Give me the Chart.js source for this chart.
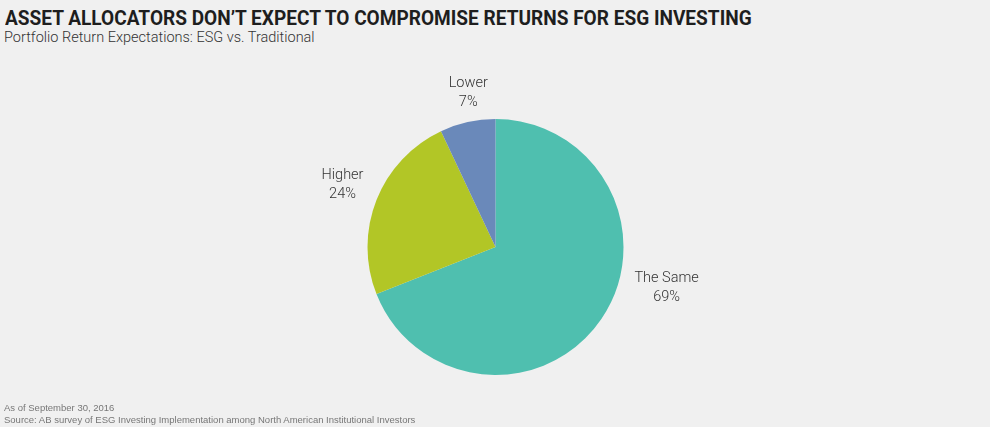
<!DOCTYPE html>
<html>
<head>
<meta charset="utf-8">
<script src="https://cdn.jsdelivr.net/npm/chart.js@4.4.0/dist/chart.umd.min.js"></script>
<style>
  html, body { margin: 0; padding: 0; background: #f0f0f0; }
  body { width: 990px; height: 427px; position: relative; overflow: hidden; font-family: Roboto, "Liberation Sans", sans-serif; }
  #title { position: absolute; left: 5px; top: 6px; font-size: 21px; font-weight: 700; color: #1e1e1e; white-space: nowrap; transform-origin: left top; }
  #subtitle { position: absolute; left: 4px; top: 29px; font-size: 14.5px; font-weight: 300; color: #333; white-space: nowrap; }
  #notes { position: absolute; left: 4px; top: 402px; font-family: "Liberation Sans", Arial, sans-serif; font-size: 9.5px; line-height: 12px; color: #777; white-space: nowrap; }
  #wrap { position: absolute; left: 0; top: 60px; width: 990px; height: 374px; }
</style>
</head>
<body>
<div id="title">ASSET ALLOCATORS DON’T EXPECT TO COMPROMISE RETURNS FOR ESG INVESTING</div>
<div id="subtitle">Portfolio Return Expectations: ESG vs. Traditional</div>
<div id="wrap"><canvas id="chart"></canvas></div>
<div id="notes">As of September 30, 2016<br>Source: AB survey of ESG Investing Implementation among North American Institutional Investors</div>
<script>
// ----------------- DATA -----------------
const categories = ["The Same", "Higher", "Lower"];
const shares = [69, 24, 7];
const sliceColors = ["#4fbfaf", "#b2c626", "#6a89ba"];

// squeeze the title to the reference width
const titleEl = document.getElementById("title");
titleEl.style.transform = "scaleX(" + (747 / titleEl.scrollWidth) + ")";

// ----------------- LABELS -----------------
// label angle (deg, 0 = right, clockwise) and distance from centre
const labelSpots = [
  { angle: 13.5, dist: 176 },
  { angle: -158, dist: 165 },
  { angle: -100, dist: 157 },
];

const outsideLabels = {
  id: "outsideLabels",
  afterDatasetsDraw(c) {
    const arc = c.getDatasetMeta(0).data[0];
    const cx = arc.x, cy = arc.y;
    const ctx = c.ctx;
    ctx.save();
    ctx.fillStyle = "#333";
    ctx.font = "300 14.5px Roboto";
    ctx.textAlign = "center";
    ctx.textBaseline = "middle";
    categories.forEach((name, i) => {
      const a = labelSpots[i].angle * Math.PI / 180;
      const x = cx + Math.cos(a) * labelSpots[i].dist;
      const y = cy + Math.sin(a) * labelSpots[i].dist;
      ctx.fillText(name, x, y - 9.5);
      ctx.fillText(shares[i] + "%", x, y + 9.5);
    });
    ctx.restore();
  }
};

// ----------------- CHART -----------------
const ctx = document.getElementById("chart").getContext("2d");
new Chart(ctx, {
  type: "pie",
  data: {
    labels: categories,
    datasets: [{
      data: shares,
      backgroundColor: sliceColors,
      borderWidth: 0,
    }]
  },
  options: {
    responsive: true,
    maintainAspectRatio: false,
    animation: false,
    layout: { padding: { top: 59, bottom: 59, left: 1, right: 0 } },
    plugins: {
      legend: { display: false },
      tooltip: { enabled: false },
    },
  },
  plugins: [outsideLabels],
});
</script>
</body>
</html>
